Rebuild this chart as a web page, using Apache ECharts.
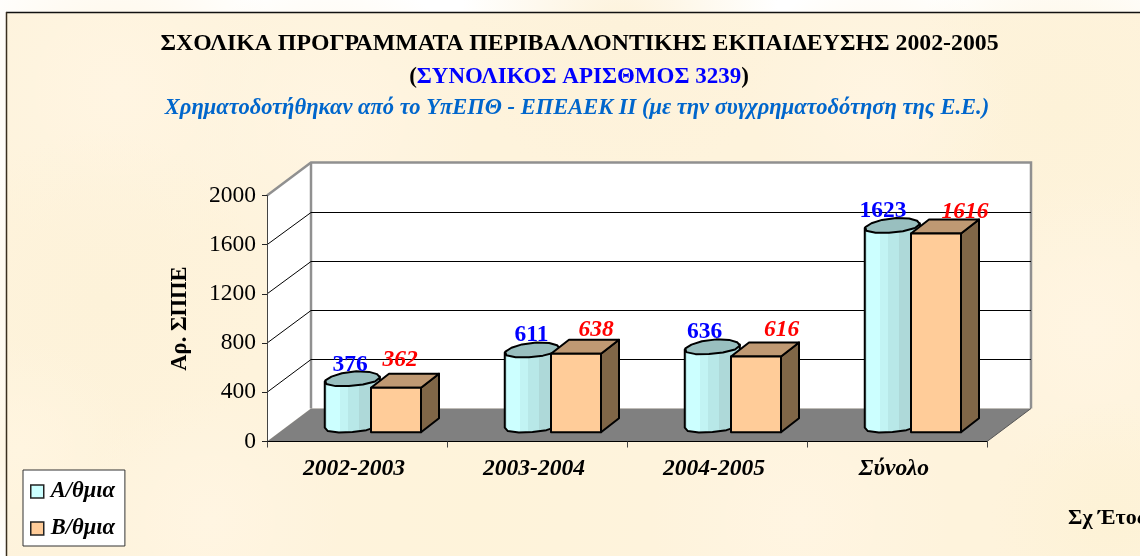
<!DOCTYPE html>
<html>
<head>
<meta charset="utf-8">
<style>html,body{margin:0;padding:0;background:#fff}#c{width:1140px;height:556px}</style>
<script src="https://cdn.jsdelivr.net/npm/echarts@6/dist/echarts.min.js"></script>
</head>
<body>
<div id="c"></div>
<script>
const categories = ['2002-2003', '2003-2004', '2004-2005', 'Σύνολο'];
const seriesA = [376, 611, 636, 1623];
const seriesB = [362, 638, 616, 1616];
const nameA = 'Α/θμια';
const nameB = 'Β/θμια';
const yTicks = [0, 400, 800, 1200, 1600, 2000];
const yTitle = 'Αρ. ΣΠΠΕ';
const xTitle = 'Σχ Έτος';
const title1 = 'ΣΧΟΛΙΚΑ ΠΡΟΓΡΑΜΜΑΤΑ ΠΕΡΙΒΑΛΛΟΝΤΙΚΗΣ ΕΚΠΑΙΔΕΥΣΗΣ 2002-2005';
const title2 = 'ΣΥΝΟΛΙΚΟΣ ΑΡΙΣΘΜΟΣ 3239';
const title3 = 'Χρηματοδοτήθηκαν από το ΥπΕΠΘ - ΕΠΕΑΕΚ ΙΙ (με την συγχρηματοδότηση της Ε.Ε.)';

// layout (hand-moved data labels in the original)
const labelOffsetA = [[-2.5, -14], [-1, -15], [-8, -15], [-9.5, -14.5]];
const labelOffsetB = [[4, -27.5], [20, -23.5], [25.5, -26.5], [29, -21.5]];
const DEPTH_X = 44, DEPTH_Y = -33;
const FLOOR_Y = -9.3;
const SERIF = '"Liberation Serif", "Times New Roman", serif';

// soft mottling of the parchment background
const blobs = [
  [120, 90, 170, '#FFF5E2'], [330, 120, 150, '#FFF5E2'], [620, 30, 160, '#FDF2DA'],
  [1060, 110, 170, '#FDF2D8'], [100, 300, 170, '#FDF2D9'], [210, 520, 130, '#FFF5E2'],
  [480, 510, 170, '#FEF3DA'], [800, 520, 150, '#FFF5E2'], [1090, 330, 150, '#FFF5E2'],
  [1110, 520, 120, '#FDF2D6'], [20, 450, 110, '#FFF5E0'], [880, 100, 130, '#FFF5E2']
];

function rim(cx, cy, t) {
  const w = 1 + 0.035 * Math.cos(3 * t + 0.8);
  return [cx + w * (26 * Math.cos(t) + 9 * Math.sin(t)), cy + w * (-7.5 * Math.sin(t))];
}

function renderWalls(params, api) {
  const v = api.value(0);
  const g = params.coordSys;
  const L = g.x, R = g.x + g.width, T = g.y, B = g.y + g.height;
  const y = api.coord([0, v])[1];
  const children = [];
  const line = (x1, y1, x2, y2, stroke, lw) => ({
    type: 'line', shape: { x1, y1, x2, y2 }, style: { stroke, lineWidth: lw, fill: null }
  });
  if (params.dataIndex === 0) {
    children.push({ type: 'rect', shape: { x: L + DEPTH_X, y: T + DEPTH_Y, width: g.width, height: g.height }, style: { fill: '#fff' } });
    children.push({ type: 'polygon', shape: { points: [[L, T], [L + DEPTH_X, T + DEPTH_Y], [L + DEPTH_X, B + DEPTH_Y], [L, B]] }, style: { fill: '#fff' } });
    children.push({ type: 'polygon', shape: { points: [[L, B], [R, B], [R + DEPTH_X, B + DEPTH_Y], [L + DEPTH_X, B + DEPTH_Y]] }, style: { fill: '#808080' } });
    children.push({ type: 'polyline', shape: { points: [[L, T], [L + DEPTH_X, T + DEPTH_Y], [R + DEPTH_X, T + DEPTH_Y], [R + DEPTH_X, B + DEPTH_Y]] }, style: { stroke: '#909090', lineWidth: 2.5, fill: null } });
    children.push(line(L + DEPTH_X, T + DEPTH_Y, L + DEPTH_X, B + DEPTH_Y, '#909090', 2.5));
    children.push(line(R, B, R + DEPTH_X, B + DEPTH_Y, '#555', 1));
  } else if (v < yTicks[yTicks.length - 1]) {
    const yBack = Math.round(y + DEPTH_Y) + 0.5;
    children.push(line(L, y, L + DEPTH_X, yBack, '#000', 1));
    children.push(line(L + DEPTH_X, yBack, R + DEPTH_X, yBack, '#000', 1));
  }
  return { type: 'group', children };
}

function renderCylinder(params, api) {
  const p0 = api.coord([api.value(0), 0]);
  const p1 = api.coord([api.value(0), api.value(1)]);
  const cx = p0[0] - 4.5;
  const cyB = p0[1] + FLOOR_Y - 7, cyT = p1[1] + FLOOR_Y - 7;
  const tR = Math.atan(9 / 26), tL = Math.PI + tR;
  const body = [];
  const N = 6;
  body.push(rim(cx, cyT, tL));
  for (let k = 0; k <= N; k++) body.push(rim(cx, cyB, tL + Math.PI * k / N));
  body.push(rim(cx, cyT, tR));
  const top = [];
  for (let k = 0; k < 12; k++) top.push(rim(cx, cyT, 2 * Math.PI * k / 12 + 0.2));
  const s = (c, a, b) => [{ offset: a, color: c }, { offset: b, color: c }];
  const off = labelOffsetA[params.dataIndex];
  return {
    type: 'group',
    children: [
      { type: 'polygon', shape: { points: body }, style: {
        fill: { type: 'linear', x: 0, y: 0, x2: 1, y2: 0, colorStops: [
          ...s('#B8E8E8', 0, 0.06), ...s('#CCFFFF', 0.06, 0.28), ...s('#C2F4F4', 0.28, 0.42),
          ...s('#B8E8E8', 0.42, 0.62), ...s('#AED9D9', 0.62, 1)
        ] }, stroke: '#000', lineWidth: 2, lineJoin: 'round' } },
      { type: 'polygon', shape: { points: top }, style: { fill: '#99BFBF', stroke: '#000', lineWidth: 2, lineJoin: 'round' } },
      { type: 'text', x: cx + off[0], y: cyT + off[1], z2: 50, style: { text: String(api.value(1)), fill: '#0000FF', font: 'bold 23.5px ' + SERIF, align: 'center', verticalAlign: 'middle' } }
    ]
  };
}

function renderBox(params, api) {
  const p0 = api.coord([api.value(0), 0]);
  const p1 = api.coord([api.value(0), api.value(1)]);
  const x0 = p0[0] + 14, x1 = x0 + 50;
  const yB = p0[1] + FLOOR_Y, yT = p1[1] + FLOOR_Y;
  const dx = 18, dy = -14;
  const st = { stroke: '#000', lineWidth: 2, lineJoin: 'round' };
  const off = labelOffsetB[params.dataIndex];
  return {
    type: 'group',
    children: [
      { type: 'polygon', shape: { points: [[x1, yT], [x1 + dx, yT + dy], [x1 + dx, yB + dy], [x1, yB]] }, style: { fill: '#806647', ...st } },
      { type: 'polygon', shape: { points: [[x0, yT], [x0 + dx, yT + dy], [x1 + dx, yT + dy], [x1, yT]] }, style: { fill: '#BF9973', ...st } },
      { type: 'rect', shape: { x: x0, y: yT, width: 50, height: yB - yT }, style: { fill: '#FFCC99', ...st } },
      { type: 'text', x: (x0 + x1) / 2 + off[0], y: yT + off[1], z2: 50, style: { text: String(api.value(1)), fill: '#FF0000', font: 'italic bold 23.5px ' + SERIF, align: 'center', verticalAlign: 'middle' } }
    ]
  };
}

const bgGraphic = [
  { type: 'rect', z: -10, shape: { x: 6, y: 12, width: 1134, height: 544 }, style: { fill: '#FEF3DC' } }
].concat(blobs.map(b => ({
  type: 'circle', z: -9, shape: { cx: b[0], cy: b[1], r: b[2] },
  style: { fill: { type: 'radial', x: 0.5, y: 0.5, r: 0.5, colorStops: [
    { offset: 0, color: b[3] }, { offset: 1, color: b[3] + '00' }] } }
}))).concat([
  { type: 'line', z: -8, shape: { x1: 6, y1: 12.5, x2: 1140, y2: 12.5 }, style: { stroke: '#111', lineWidth: 1.5 } },
  { type: 'line', z: -8, shape: { x1: 6.5, y1: 12, x2: 6.5, y2: 556 }, style: { stroke: '#3a2f1e', lineWidth: 1.5 } },
  { type: 'text', z: 5, x: 1068, y: 518, style: { text: xTitle, fill: '#000', font: 'bold 22px ' + SERIF, verticalAlign: 'middle' } }
]);

const chart = echarts.init(document.getElementById('c'));
chart.setOption({
  animation: false,
  backgroundColor: '#fff',
  graphic: bgGraphic,
  title: [
    { text: title1, left: 574.5, top: 27, textAlign: 'center', textStyle: { fontFamily: SERIF, fontWeight: 'bold', fontSize: 23.8, color: '#000' } },
    { text: '{p|(}{b|' + title2 + '}{p|)}', left: 574, top: 61, textAlign: 'center', textStyle: { rich: {
      p: { fontFamily: SERIF, fontWeight: 'bold', fontSize: 23, color: '#000' },
      b: { fontFamily: SERIF, fontWeight: 'bold', fontSize: 23, color: '#0000FF' } } } },
    { text: title3, left: 572, top: 92, textAlign: 'center', textStyle: { fontFamily: SERIF, fontWeight: 'bold', fontStyle: 'italic', fontSize: 22.5, color: '#0066CC' } }
  ],
  legend: {
    left: 23, top: 470, orient: 'vertical', padding: [10, 10, 6, 7], itemWidth: 13, itemHeight: 13, itemGap: 14,
    backgroundColor: '#fff', borderColor: '#333', borderWidth: 1, borderRadius: 0,
    data: [
      { name: nameA, icon: 'rect', itemStyle: { color: '#CCFFFF', borderColor: '#222', borderWidth: 1.5 } },
      { name: nameB, icon: 'rect', itemStyle: { color: '#FFCC99', borderColor: '#222', borderWidth: 1.5 } }
    ],
    textStyle: { fontFamily: SERIF, fontWeight: 'bold', fontStyle: 'italic', fontSize: 22.5, color: '#000', padding: [0, 0, 0, 2] }
  },
  grid: { left: 267, top: 195.5, width: 720, height: 246 },
  xAxis: {
    type: 'category', data: categories, z: 5,
    axisLine: { lineStyle: { color: '#000', width: 1 } },
    axisTick: { show: true, length: 6, lineStyle: { color: '#444' } },
    axisLabel: { fontFamily: SERIF, fontWeight: 'bold', fontStyle: 'italic', fontSize: 23.6, color: '#000', margin: 15, padding: [0, 6, 0, 0] }
  },
  yAxis: {
    type: 'value', min: 0, max: 2000, interval: 400, z: 5,
    name: yTitle, nameLocation: 'middle', nameRotate: 90, nameGap: 75,
    nameTextStyle: { fontFamily: SERIF, fontWeight: 'bold', fontSize: 22.5, color: '#000' },
    axisLine: { show: true, lineStyle: { color: '#444', width: 1 } },
    axisTick: { show: true, length: 5, lineStyle: { color: '#222' } },
    axisLabel: { fontFamily: SERIF, fontSize: 23.5, color: '#000', margin: 11, formatter: v => String(v) },
    splitLine: { show: false }
  },
  series: [
    { type: 'custom', name: 'walls', coordinateSystem: 'cartesian2d', clip: false, silent: true, z: 1, renderItem: renderWalls,
      encode: { y: 0 }, data: yTicks.map(v => [v]) },
    { type: 'custom', name: nameA, coordinateSystem: 'cartesian2d', clip: false, z: 6, renderItem: renderCylinder,
      itemStyle: { color: '#CCFFFF' }, encode: { x: 0, y: 1 }, data: seriesA.map((v, i) => [i, v]) },
    { type: 'custom', name: nameB, coordinateSystem: 'cartesian2d', clip: false, z: 7, renderItem: renderBox,
      itemStyle: { color: '#FFCC99' }, encode: { x: 0, y: 1 }, data: seriesB.map((v, i) => [i, v]) }
  ]
});
</script>
</body>
</html>
